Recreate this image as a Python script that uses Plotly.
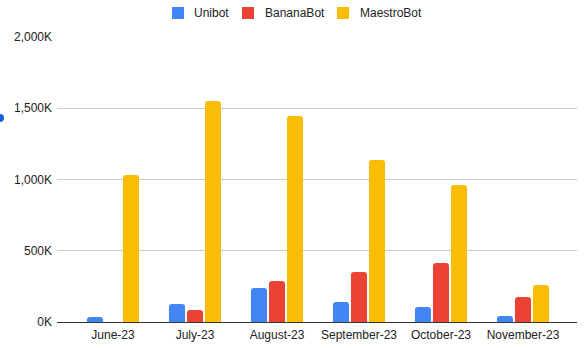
import plotly.graph_objects as go

months = ["June-23", "July-23", "August-23", "September-23", "October-23", "November-23"]
unibot = [35, 126, 239, 140, 105, 42]
bananabot = [0, 84, 288, 351, 414, 175]
maestrobot = [1032, 1551, 1446, 1137, 961, 260]
y_ticks = [0, 500, 1000, 1500, 2000]
y_tick_labels = ["0K", "500K", "1,000K", "1,500K", "2,000K"]

series = [("Unibot", unibot, "#4285F4"),
          ("BananaBot", bananabot, "#EA4335"),
          ("MaestroBot", maestrobot, "#FBBC04")]

L, R, T, B, W, H = 57, 10, 37, 26, 587, 348
pw, ph = W - L - R, H - T - B
def px(x):
    return (x - L) / pw
def py(y):
    return (H - B - y) / ph

font = "Liberation Sans, Arial, sans-serif"
fig = go.Figure()
shapes = []
annotations = []
legend_sq = [172, 242, 337]
legend_tx = [192, 263, 358]
for (name, vals, col), sq, tx in zip(series, legend_sq, legend_tx):
    fig.add_trace(go.Bar(x=months, y=vals, name=name, showlegend=False,
                         marker=dict(color=col, line=dict(width=0), cornerradius=3)))
    shapes.append(dict(type="rect", xref="paper", yref="paper",
                       x0=px(sq), x1=px(sq + 12), y0=py(19), y1=py(7),
                       fillcolor=col, line=dict(width=0)))
    annotations.append(dict(text=name, xref="paper", yref="paper", x=px(tx), y=py(13),
                            xanchor="left", yanchor="middle", showarrow=False,
                            font=dict(family=font, size=12, color="#222222")))

shapes.append(dict(type="circle", xref="paper", yref="paper",
                   x0=px(-4), x1=px(4), y0=py(122), y1=py(114),
                   fillcolor="#1a5fd6", line=dict(width=0)))

fig.update_layout(
    width=W, height=H,
    margin=dict(l=L, r=R, t=T, b=B),
    paper_bgcolor="white", plot_bgcolor="white",
    barmode="group", bargap=0.341, bargroupgap=0.11,
    font=dict(family=font, size=12, color="#222222"),
    showlegend=False,
    xaxis=dict(range=[-0.683, 5.659], showgrid=False, showline=True, automargin=False,
               linecolor="#333333", linewidth=1, ticks="", ticklabelstandoff=2,
               tickfont=dict(size=12, color="#222222")),
    yaxis=dict(range=[0, 2000], tickvals=y_ticks, ticktext=y_tick_labels,
               showgrid=True, gridcolor="#cccccc", gridwidth=1, zeroline=False,
               showline=False, ticks="", ticklabelstandoff=4, automargin=False,
               tickfont=dict(size=12, color="#222222")),
    shapes=shapes,
    annotations=annotations,
)
fig.write_html("out.html")
